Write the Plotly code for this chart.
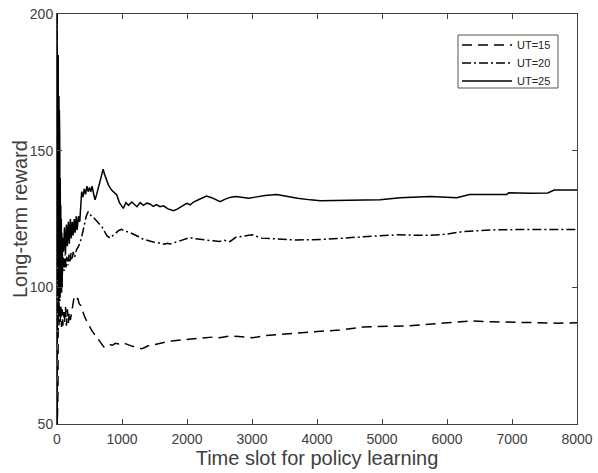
import plotly.graph_objects as go

# Long-term reward versus time slot for three user-threshold (UT) settings
t_ut15 = [0, 4, 9, 15, 22, 30, 40, 50, 60, 70, 80, 90, 100, 115, 130, 145, 160, 175,
          190, 205, 220, 240, 260, 280, 300, 320, 340, 360, 380, 400, 430, 460, 500,
          530, 570, 610, 650, 690, 720, 760, 800, 850, 900, 950, 1000, 1050, 1100,
          1150, 1200, 1250, 1300, 1350, 1400, 1500, 1600, 1700, 1800, 1900, 2000,
          2200, 2400, 2500, 2660, 2800, 3000, 3080, 3200, 3690, 4350, 4710, 5380,
          6000, 6350, 6700, 7280, 7700, 8000]
r_ut15 = [200, 50, 150, 62, 120, 86, 94, 87, 93, 85.5, 92, 86, 91, 87, 93, 86, 92, 87,
          91, 88, 90, 94, 96, 96.6, 95.5, 96, 94, 93.5, 92, 90.5, 89, 87.5, 85.5,
          84.4, 83, 82.0, 80.5, 79, 78.2, 78.6, 79.2, 78.8, 79.5, 79.3, 79.8, 79.4,
          78.8, 78.5, 78.2, 77.8, 77.5, 78, 78.6, 79.0, 79.6, 80.1, 80.5, 80.7, 81.0,
          81.3, 81.8, 81.6, 82.2, 82.0, 81.6, 81.8, 82.3, 83.3, 84.4, 85.5, 85.9,
          87.0, 87.7, 87.4, 87.0, 86.9, 87.0]

t_ut20 = [0, 5, 10, 16, 22, 28, 35, 45, 50, 65, 80, 95, 110, 125, 140, 150, 170, 185,
          200, 215, 230, 250, 270, 300, 330, 350, 380, 400, 430, 450, 480, 500, 530,
          560, 600, 650, 690, 730, 770, 815, 860, 900, 950, 995, 1050, 1100, 1150,
          1200, 1250, 1325, 1380, 1430, 1480, 1530, 1600, 1650, 1700, 1740, 1800,
          1870, 1940, 2045, 2120, 2200, 2300, 2400, 2500, 2580, 2660, 2750, 3000,
          3150, 3690, 4150, 4710, 5230, 5740, 6000, 6250, 6660, 7280, 7700, 8000]
r_ut20 = [200, 80, 185, 110, 160, 90, 140, 95, 102, 109, 104, 111, 106, 112, 107,
          111.2, 108, 112, 109, 112.5, 110, 113, 111, 113.7, 115, 116, 118.5, 121,
          124.0, 126, 127.7, 127, 126, 125.6, 124.5, 123.2, 122.2, 120.5, 118.8,
          118.0, 119, 120, 120.8, 121.2, 120.5, 120.3, 119.8, 119.2, 118.6, 117.6,
          117.2, 116.8, 116.6, 116.4, 116.2, 115.8, 116.1, 115.9, 116.3, 116.8, 117.3,
          118.2, 117.8, 117.5, 117.3, 117.0, 116.8, 117.2, 116.7, 118.3, 119.2, 118.0,
          117.3, 117.6, 118.5, 119.2, 119.0, 119.5, 120.4, 121.0, 121.2, 121.3, 121.2]

t_ut25 = [0, 3, 6, 9, 12, 15, 18, 21, 24, 27, 30, 33, 36, 39, 42, 46, 50, 54, 58, 62,
          66, 70, 75, 80, 85, 100, 115, 130, 145, 160,
          175, 190, 205, 220, 235, 250, 265, 280, 295, 310, 330, 350, 365, 380, 400,
          420, 440, 460, 480, 500, 520, 540, 560, 585, 610, 640, 670, 700, 710, 730,
          760, 790, 840, 880, 920, 960, 1000, 1020, 1060, 1100, 1150, 1200, 1230,
          1280, 1330, 1380, 1430, 1480, 1530, 1585, 1640, 1700, 1750, 1790, 1850,
          1900, 1995, 2050, 2100, 2200, 2300, 2380, 2440, 2510, 2580, 2660, 2750,
          2850, 2950, 3050, 3200, 3380, 3500, 3700, 3900, 4050, 4500, 4970, 5280,
          5740, 6150, 6350, 6920, 6950, 7280, 7550, 7650, 8000]
r_ut25 = [200, 150, 195, 130, 190, 110, 185, 100, 178, 120, 170, 95, 165, 105, 155,
          100, 140, 98, 130, 100, 125, 98, 120, 100, 118, 113, 122, 112,
          123, 115, 124, 116, 125, 118, 124, 119, 125, 120, 126, 121, 126, 124, 130,
          135, 133, 136, 134, 137, 135, 136.5, 135, 137, 134.5, 132, 134, 136.5, 139,
          142, 143.2, 141.5, 139.5, 137.5, 135.6, 134.5, 133.8, 131, 129.5, 128.9,
          131, 130, 131.2, 130.2, 129.5, 131, 130, 130.8, 130.5, 129.6, 130.3, 129.5,
          129.8, 128.8, 128.5, 128.0, 128.6, 129.3, 130.7, 130.2, 131.2, 132.3, 133.4,
          132.8, 132, 131.3, 132.2, 132.9, 133.2, 132.8, 132.6, 133, 133.6, 134.0,
          133.4, 132.6, 132, 131.7, 131.9, 132.0, 132.8, 133.2, 132.8, 134.0, 134.0,
          134.6, 134.4, 134.5, 135.6, 135.6]

x_ticks = [0, 1000, 2000, 3000, 4000, 5000, 6000, 7000, 8000]
y_ticks = [50, 100, 150, 200]

series = [
    ("UT=15", t_ut15, r_ut15, "10px,6px"),
    ("UT=20", t_ut20, r_ut20, "9px,3px,2px,3px"),
    ("UT=25", t_ut25, r_ut25, "solid"),
]

# plot area in pixels (used to place the hand-drawn legend)
W, H = 598, 473
L, R, T, B = 57, 21, 14, 49
pw, ph = W - L - R, H - T - B


def px(x):
    return (x - L) / pw


def py(y):
    return (H - B - y) / ph


fig = go.Figure()
for name, t, r, dash in series:
    fig.add_trace(go.Scatter(
        x=t, y=r, mode="lines", name=name, showlegend=False,
        line=dict(color="black", width=1.5, dash=dash),
    ))

# legend box with line samples and labels
box = dict(x0=458, x1=558, y0=35, y1=88)
rows = [45, 63, 81]
shapes = [dict(type="rect", xref="paper", yref="paper",
               x0=px(box["x0"]), x1=px(box["x1"]), y0=py(box["y1"]), y1=py(box["y0"]),
               line=dict(color="#555555", width=1), fillcolor="white", layer="above")]
annotations = []
for (name, _, _, dash), ry in zip(series, rows):
    shapes.append(dict(type="line", xref="paper", yref="paper",
                       x0=px(462), x1=px(512), y0=py(ry), y1=py(ry),
                       line=dict(color="black", width=1.3, dash=dash), layer="above"))
    annotations.append(dict(text=name, xref="paper", yref="paper",
                            x=px(515), y=py(ry), xanchor="left", yanchor="middle",
                            showarrow=False, font=dict(size=11, color="#222222")))

axis_color = "#404040"
font_family = "Arial, Liberation Sans, sans-serif"

annotations.append(dict(text="Long-term reward", xref="paper", yref="paper",
                        x=px(20), y=0.5, xanchor="center", yanchor="middle",
                        textangle=-90, showarrow=False,
                        font=dict(size=20, color="#404040")))

fig.update_layout(
    width=W, height=H,
    margin=dict(l=L, r=R, t=T, b=B, autoexpand=False),
    paper_bgcolor="white", plot_bgcolor="white",
    font=dict(family=font_family, color="#333333"),
    showlegend=False,
    shapes=shapes,
    annotations=annotations,
    xaxis=dict(
        range=[0, 8000], tickvals=x_ticks, automargin=False,
        showline=True, linecolor=axis_color, linewidth=1, mirror="ticks",
        ticks="inside", ticklen=5, tickcolor=axis_color,
        showgrid=False, zeroline=False,
        tickfont=dict(size=14, color="#404040"),
        ticklabelstandoff=2,
        title=dict(text="Time slot for policy learning",
                   font=dict(size=20, color="#404040"), standoff=4),
    ),
    yaxis=dict(
        range=[50, 200], tickvals=y_ticks, automargin=False,
        showline=True, linecolor=axis_color, linewidth=1, mirror="ticks",
        ticks="inside", ticklen=5, tickcolor=axis_color,
        showgrid=False, zeroline=False,
        tickfont=dict(size=14, color="#404040"),
    ),
)

fig.write_html("out.html")
